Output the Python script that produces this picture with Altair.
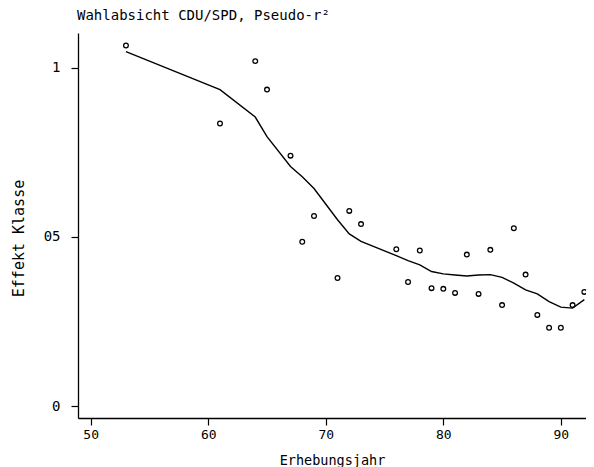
import altair as alt
import pandas as pd

# Survey years (Erhebungsjahr) and class effect (Pseudo-r²)
years = [53, 61, 64, 65, 67, 68, 69, 71, 72, 73, 76, 77, 78, 79, 80,
         81, 82, 83, 84, 85, 86, 87, 88, 89, 90, 91, 92]
effect = [0.1065, 0.0835, 0.1019, 0.0935, 0.0740, 0.0486, 0.0562, 0.0379,
          0.0577, 0.0538, 0.0464, 0.0367, 0.0460, 0.0349, 0.0347, 0.0335,
          0.0448, 0.0332, 0.0462, 0.0299, 0.0526, 0.0389, 0.0270, 0.0232,
          0.0232, 0.0299, 0.0338]
smooth = [0.1047, 0.0935, 0.0854, 0.0796, 0.0708, 0.0678, 0.0643, 0.0551,
          0.0509, 0.0487, 0.0445, 0.0430, 0.0418, 0.0398, 0.0391, 0.0388,
          0.0385, 0.0388, 0.0389, 0.0381, 0.0364, 0.0344, 0.0332, 0.0309,
          0.0293, 0.0290, 0.0315]

x_ticks = [50, 60, 70, 80, 90]
y_ticks = [0, 0.05, 0.1]
y_tick_labels = ["0", "05", "1"]

df = pd.DataFrame({"jahr": years, "effekt": effect, "glatt": smooth})

FONT = "DejaVu Sans Mono"

label_expr = " : ".join(
    [f"datum.value < {v + 0.01} ? '{l}'" for v, l in zip(y_ticks[:-1], y_tick_labels[:-1])]
    + [f"'{y_tick_labels[-1]}'"]
)

x_enc = alt.X(
    "jahr:Q",
    scale=alt.Scale(domain=[48.92, 92.14], nice=False, zero=False),
    axis=alt.Axis(
        values=x_ticks, title="Erhebungsjahr", grid=False,
        tickSize=7, labelPadding=3, labelFontSize=13, labelFont=FONT,
        titleFont=FONT, titleFontSize=13.5, titleFontWeight="normal",
        titleY=35, titleBaseline="top",
        domainColor="black", tickColor="black", labelColor="black",
        titleColor="black", domainWidth=1.3, tickWidth=1.2,
    ),
)

y_axis = alt.Axis(
    values=y_ticks, labelExpr=label_expr, title="Effekt Klasse", grid=False,
    tickSize=7, labelPadding=11, labelFontSize=14, labelFont=FONT,
    titleFont=FONT, titleFontSize=15, titleFontWeight="normal",
    titleAngle=270, titleX=-60, titleY=205, titleAlign="center",
    titleBaseline="middle",
    domainColor="black", tickColor="black", labelColor="black",
    titleColor="black", domainWidth=1.3, tickWidth=1.2,
)
y_scale = alt.Scale(domain=[-0.00342, 0.1102], nice=False, zero=False)

points = alt.Chart(df).mark_point(
    shape="circle", filled=False, size=22, strokeWidth=1.3, color="black", opacity=1
).encode(x=x_enc, y=alt.Y("effekt:Q", scale=y_scale, axis=y_axis))

line = alt.Chart(df).mark_line(color="black", strokeWidth=1.4).encode(
    x=x_enc, y=alt.Y("glatt:Q", scale=y_scale, axis=y_axis)
)

chart = (
    alt.layer(points, line)
    .properties(
        width=508,
        height=385,
        title=alt.TitleParams(
            "Wahlabsicht CDU/SPD, Pseudo-r²", anchor="start", frame="group",
            font=FONT, fontSize=14, fontWeight="normal", color="black",
            offset=10, dx=-1,
        ),
        autosize=alt.AutoSizeParams(type="none"),
        padding={"left": 70, "top": 25, "right": 0, "bottom": 51},
        background="white",
    )
    .configure_view(stroke=None, strokeWidth=0)
)

chart.save("out.html", embed_options={"renderer": "svg", "actions": False})
